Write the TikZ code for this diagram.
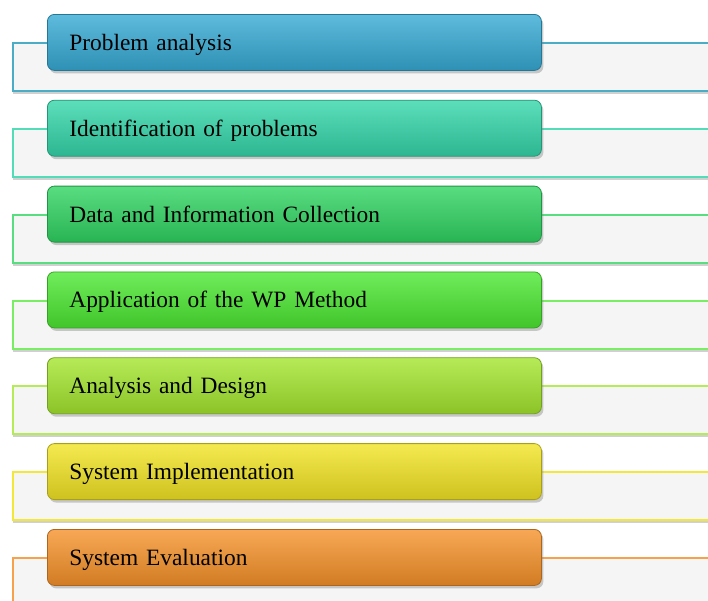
\documentclass[tikz,border=0pt]{standalone}
\usepackage{fontspec}
\setmainfont{Liberation Serif}
\usetikzlibrary{shadows,positioning}
\definecolor{stageblue}{RGB}{54,170,212}
\definecolor{stageteal}{RGB}{52,214,170}
\definecolor{stagegreen}{RGB}{48,212,98}
\definecolor{stagelime}{RGB}{76,232,50}
\definecolor{stageolive}{RGB}{164,230,46}
\definecolor{stageyellow}{RGB}{242,228,36}
\definecolor{stageorange}{RGB}{246,146,42}
\definecolor{bandblue}{RGB}{75,172,198}
\tikzstyle{band} = [rectangle, line width=2pt, fill=black!4, minimum width=720pt, minimum height=48pt, inner sep=0pt, anchor=north west, drop shadow={shadow xshift=0pt, shadow yshift=-3pt, opacity=0.3, fill=black!60}]
\tikzstyle{stage} = [rectangle, rounded corners=7pt, line width=0.8pt, minimum width=494pt, minimum height=56pt, text width=450pt, text height=20pt, text depth=4pt, inner xsep=22pt, inner ysep=0pt, align=left, anchor=north west, font=\fontsize{23.4}{28}\selectfont, drop shadow={shadow xshift=2pt, shadow yshift=-3pt, opacity=0.4}]
\tikzset{stagefill/.style={draw=#1!70!black, top color=#1!80!white, middle color=#1, bottom color=#1!85!black}}

\begin{document}
\begin{tikzpicture}[x=1pt,y=-1pt]
\useasboundingbox (0,0) rectangle (708,600);
\clip (0,0) rectangle (708,600);
\fill[white] (0,0) rectangle (708,600);
% bands behind the boxes
\node (b1) [band, draw=bandblue] at (12,42) {};
\node (b2) [band, draw=stageteal!85] at (12,127.8) {};
\node (b3) [band, draw=stagegreen!80] at (12,213.7) {};
\node (b4) [band, draw=stagelime!75] at (12,299.5) {};
\node (b5) [band, draw=stageolive!80] at (12,385.3) {};
\node (b6) [band, draw=stageyellow!90] at (12,471.2) {};
\node (b7) [band, draw=stageorange!85] at (12,557) {};
% the steps
\node (s1) [stage, stagefill=stageblue] at (47,14) {Problem analysis};
\node (s2) [stage, stagefill=stageteal] at (47,99.8) {Identification of problems};
\node (s3) [stage, stagefill=stagegreen] at (47,185.7) {Data and Information Collection};
\node (s4) [stage, stagefill=stagelime] at (47,271.5) {Application of the WP Method};
\node (s5) [stage, stagefill=stageolive] at (47,357.3) {Analysis and Design};
\node (s6) [stage, stagefill=stageyellow] at (47,443.2) {System Implementation};
\node (s7) [stage, stagefill=stageorange] at (47,529) {System Evaluation};
\end{tikzpicture}
\end{document}
